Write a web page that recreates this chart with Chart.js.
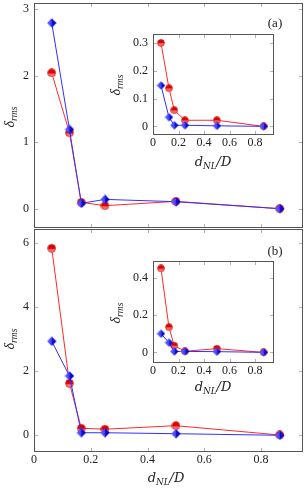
<!DOCTYPE html>
<html><head><meta charset="utf-8">
<script src="https://cdn.jsdelivr.net/npm/chart.js@4/dist/chart.umd.min.js"></script>
<style>
html,body{margin:0;padding:0;background:#fff;width:304px;height:492px;overflow:hidden;position:relative}
canvas{position:absolute;left:0;top:0;pointer-events:none}
.t{position:absolute;white-space:nowrap;line-height:1;color:#222;font-family:'Liberation Serif',serif;transform:translate(-50%,-50%)}
.rot{transform:translate(-50%,-50%) rotate(-90deg)}
.t i{font-style:italic}
.t sub{font-size:68%;vertical-align:-0.3em;font-style:italic}
</style></head>
<body>
<canvas id="c1" width="304" height="492"></canvas>
<canvas id="c2" width="304" height="492"></canvas>
<canvas id="c3" width="304" height="492"></canvas>
<canvas id="c4" width="304" height="492"></canvas>
<div class="t" style="left:275px;top:22px;font-size:13px">(a)</div>
<div class="t" style="left:275px;top:250px;font-size:13px">(b)</div>
<div class="t rot" style="left:11px;top:117px;font-size:14px"><i>δ</i><sub>rms</sub></div>
<div class="t rot" style="left:11px;top:339px;font-size:14px"><i>δ</i><sub>rms</sub></div>
<div class="t rot" style="left:117px;top:85px;font-size:14px"><i>δ</i><sub>rms</sub></div>
<div class="t rot" style="left:117px;top:313px;font-size:14px"><i>δ</i><sub>rms</sub></div>
<div class="t" style="left:166px;top:479px;font-size:13px;font-family:'DejaVu Serif',serif"><i>d</i><sub>NL</sub><i>/D</i></div>
<div class="t" style="left:213px;top:163px;font-size:13px;font-family:'DejaVu Serif',serif"><i>d</i><sub>NL</sub><i>/D</i></div>
<div class="t" style="left:213px;top:388px;font-size:13px;font-family:'DejaVu Serif',serif"><i>d</i><sub>NL</sub><i>/D</i></div>
<script>
// ---- data ----
const xValues = [0.0625, 0.125, 0.1667, 0.25, 0.5, 0.866];
const topRed = [2.04, 1.14, 0.095, 0.045, 0.11, 0.0];
const topBlue = [2.79, 1.19, 0.08, 0.14, 0.105, 0.0];
const topInsetRed = [0.30, 0.137, 0.058, 0.022, 0.022, 0.0];
const topInsetBlue = [0.147, 0.033, 0.004, 0.004, 0.002, 0.0];
const bottomRed = [5.83, 1.62, 0.22, 0.19, 0.30, 0.01];
const bottomBlue = [2.93, 1.85, 0.08, 0.08, 0.05, 0.0];
const bottomInsetRed = [0.45, 0.135, 0.036, 0.006, 0.02, 0.0];
const bottomInsetBlue = [0.10, 0.052, 0.005, 0.005, 0.004, 0.0];
const xTicks = [0, 0.2, 0.4, 0.6, 0.8];
const topYTicks = [0, 1, 2, 3];
const bottomYTicks = [0, 2, 4, 6];
const topInsetYTicks = [0, 0.1, 0.2, 0.3];
const bottomInsetYTicks = [0, 0.2, 0.4];

// ---- marker images ----
function ballImg(d){
  const c=document.createElement('canvas');c.width=d;c.height=d;const g=c.getContext('2d');
  const gr=g.createLinearGradient(0,0,0,d);gr.addColorStop(0,'#d40000');gr.addColorStop(0.5,'#e00000');gr.addColorStop(0.55,'#f45a5a');gr.addColorStop(1,'#ff8a8a');
  g.fillStyle=gr;g.beginPath();g.arc(d/2,d/2,d/2-0.6,0,Math.PI*2);g.fill();
  g.strokeStyle='#e02020';g.lineWidth=0.8;g.stroke();return c;
}
function diamondImg(d){
  const c=document.createElement('canvas');c.width=d;c.height=d;const g=c.getContext('2d');
  const gr=g.createLinearGradient(0,0,d,0);gr.addColorStop(0,'#6a6aff');gr.addColorStop(0.5,'#4040ff');gr.addColorStop(0.55,'#1010d8');gr.addColorStop(1,'#0000b0');
  g.fillStyle=gr;g.beginPath();g.moveTo(d/2,0.3);g.lineTo(d-0.3,d/2);g.lineTo(d/2,d-0.3);g.lineTo(0.3,d/2);g.closePath();g.fill();
  return c;
}
const ball = ballImg(9), diamond = diamondImg(10);
const ballS = ballImg(8), diamondS = diamondImg(9);

const framePlugin = {
  id:'frame',
  beforeDraw(chart,args,opts){
    const a=chart.chartArea, ctx=chart.ctx;
    if(opts.white){ctx.save();ctx.fillStyle='#fff';ctx.fillRect(a.left,a.top,a.right-a.left,a.bottom-a.top);ctx.restore();}
  },
  beforeDatasetsDraw(chart){
    const a=chart.chartArea, ctx=chart.ctx, xs=chart.scales.x, ys=chart.scales.y;
    ctx.save();
    ctx.strokeStyle='#a0a0a0';ctx.lineWidth=0.8;
    const L=4;
    xs.ticks.forEach(t=>{const p=Math.round(xs.getPixelForValue(t.value))+0.5; if(p<a.left+2||p>a.right-2)return;
      ctx.beginPath();ctx.moveTo(p,a.bottom);ctx.lineTo(p,a.bottom-L);ctx.moveTo(p,a.top);ctx.lineTo(p,a.top+L);ctx.stroke();});
    ys.ticks.forEach(t=>{const p=Math.round(ys.getPixelForValue(t.value))+0.5; if(p<a.top+2||p>a.bottom-2)return;
      ctx.beginPath();ctx.moveTo(a.left,p);ctx.lineTo(a.left+L,p);ctx.moveTo(a.right,p);ctx.lineTo(a.right-L,p);ctx.stroke();});
    ctx.strokeStyle='#555';ctx.lineWidth=1;
    ctx.strokeRect(a.left+0.5,a.top+0.5,a.right-a.left-1,a.bottom-a.top-1);
    ctx.restore();
  }
};

const fmt = v => String(+(+v).toFixed(2));

function makeChart(id, red, blue, yTicks, ymin, ymax, area, yW, xH, showX, inset){
  const pts = arr => arr.map((y,i)=>({x:xValues[i], y}));
  return new Chart(document.getElementById(id), {
    type:'line',
    data:{datasets:[
      {data:pts(blue), borderColor:'#3030ff', borderWidth:1, pointStyle: inset?diamondS:diamond, pointRadius:4, tension:0},
      {data:pts(red), borderColor:'#ff2a2a', borderWidth:1, pointStyle: inset?ballS:ball, pointRadius:4, tension:0}
    ]},
    options:{
      responsive:false, animation:false, events:[],
      layout:{autoPadding:false, padding:{left:area.L-yW, top:area.T, right:304-area.R, bottom:492-area.B-xH}},
      plugins:{legend:{display:false}, tooltip:{enabled:false}, frame:{white:inset}},
      scales:{
        x:{type:'linear', min:0, max:0.948,
          afterBuildTicks:s=>{s.ticks = xTicks.map(v=>({value:v}));},
          afterFit:s=>{s.height=xH;s.paddingLeft=0;s.paddingRight=0;s.paddingTop=0;s.paddingBottom=0;},
          grid:{display:false, drawTicks:false}, border:{display:false},
          ticks:{display:showX, padding:1, color:'#222', font:{family:'Liberation Serif', size:12}, callback:fmt, maxRotation:0, autoSkip:false}},
        y:{type:'linear', min:ymin, max:ymax,
          afterBuildTicks:s=>{s.ticks = yTicks.map(v=>({value:v}));},
          afterFit:s=>{s.width=yW;s.paddingLeft=0;s.paddingRight=0;s.paddingTop=0;s.paddingBottom=0;},
          grid:{display:false, drawTicks:false}, border:{display:false},
          ticks:{padding:5, color:'#222', font:{family:'Liberation Serif', size:12}, callback:fmt, autoSkip:false}}
      }
    },
    plugins:[framePlugin]
  });
}

makeChart('c1', topRed, topBlue, topYTicks, -0.29, 3.09, {L:34,T:3,R:303,B:228}, 34, 0, false, false);
makeChart('c2', bottomRed, bottomBlue, bottomYTicks, -0.52, 6.43, {L:34,T:229,R:303,B:452}, 34, 20, true, false);
makeChart('c3', topInsetRed, topInsetBlue, topInsetYTicks, -0.031, 0.332, {L:153,T:34,R:274,B:135}, 30, 16, true, true);
makeChart('c4', bottomInsetRed, bottomInsetBlue, bottomInsetYTicks, -0.057, 0.49, {L:153,T:261,R:274,B:363}, 30, 16, true, true);
</script>
</body></html>
